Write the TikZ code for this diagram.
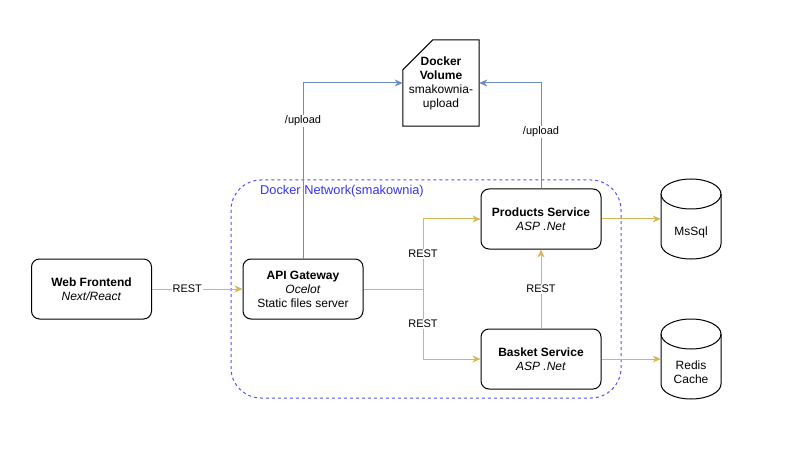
\documentclass[tikz,border=0pt]{standalone}
\usepackage{fontspec}
\setmainfont{Liberation Sans}
\usetikzlibrary{arrows.meta,calc}
\definecolor{gold}{HTML}{D6B656}
\definecolor{steel}{HTML}{6C8EBF}
\definecolor{netblue}{HTML}{5050FF}
\definecolor{nettext}{HTML}{3333FF}
\tikzset{
  svc/.style={draw=black, line width=1pt, rounded corners=8pt, minimum width=120pt, minimum height=60pt, align=center, fill=white, font=\fontsize{12}{14}\selectfont, inner sep=0pt},
  goldline/.style={draw=gold, line width=1pt, -{Stealth[length=8pt,width=7pt,inset=2.5pt]}},
  blueline/.style={draw=steel, line width=1pt, -{Stealth[length=8pt,width=7pt,inset=2.5pt]}},
  lbl/.style={fill=white, inner sep=1pt, font=\fontsize{11}{13}\selectfont},
  shapeline/.style={draw=black, line width=1pt, fill=white},
}
\begin{document}
\begin{tikzpicture}[x=1pt,y=-1pt]
\useasboundingbox (0,0) rectangle (787,465);
% network
\draw[netblue, line width=1pt, dash pattern=on 3pt off 3pt, rounded corners=30pt] (231,180) rectangle (621,398);
\node[anchor=west, text=nettext, font=\fontsize{12.8}{15}\selectfont, inner sep=0pt] (netlbl) at (260,191) {Docker Network(smakownia)};
% services
\node[svc] (web) at (91.5,289) {\textbf{Web Frontend}\\\textit{Next/React}};
\node[svc] (api) at (303,289) {\textbf{API Gateway}\\\textit{Ocelot}\\Static files server};
\node[svc] (prod) at (541,219) {\textbf{Products Service}\\\textit{ASP .Net}};
\node[svc] (bask) at (541,359) {\textbf{Basket Service}\\\textit{ASP .Net}};
% volume (card)
\node[minimum width=76pt, minimum height=86pt, inner sep=0pt] (vol) at (441,83) {};
\draw[shapeline] ($(vol.south west)$) -- ($(vol.north west)+(0,30)$) -- ($(vol.north west)+(30,0)$) -- (vol.north east) -- (vol.south east) -- cycle;
\node[align=center, font=\fontsize{12}{14}\selectfont, inner sep=0pt] (voltext) at (441,83) {\textbf{Docker}\\\textbf{Volume}\\smakownia-\\upload};
% cylinders
\node[minimum width=60pt, minimum height=80pt, inner sep=0pt] (sql) at (691,219) {};
\draw[shapeline] (661,194) -- (661,244) arc[start angle=180,end angle=0,x radius=30,y radius=15] -- (721,194) arc[start angle=0,end angle=-180,x radius=30,y radius=15];
\draw[line width=1pt] (661,194) arc[start angle=180,end angle=0,x radius=30,y radius=15];
\node[font=\fontsize{12}{14}\selectfont, inner sep=0pt] (sqltext) at ($(sql.center)+(0,13)$) {MsSql};
\node[minimum width=60pt, minimum height=80pt, inner sep=0pt] (redis) at (691,359) {};
\draw[shapeline] (661,334) -- (661,384) arc[start angle=180,end angle=0,x radius=30,y radius=15] -- (721,334) arc[start angle=0,end angle=-180,x radius=30,y radius=15];
\draw[line width=1pt] (661,334) arc[start angle=180,end angle=0,x radius=30,y radius=15];
\node[font=\fontsize{12}{14}\selectfont, inner sep=0pt, align=center] (redistext) at ($(redis.center)+(0,13)$) {Redis\\Cache};
% connectors
\draw[goldline] (web.east) -- node[lbl, pos=0.39] {REST} (api.west);
\coordinate (split) at (423,289);
\draw[draw=gold, line width=1pt] (api.east) -- (split);
\draw[goldline] (split) |- node[lbl, pos=0.25] {REST} (prod.west);
\draw[goldline] (split) |- node[lbl, pos=0.25] {REST} (bask.west);
\draw[goldline] (bask.north) -- node[lbl, pos=0.5] {REST} (prod.south);
\draw[goldline] (prod.east) -- (sql.west);
\draw[goldline] (bask.east) -- (redis.west);
\draw[blueline] (api.north) |- node[lbl, pos=0.392] {/upload} (vol.west);
\draw[blueline] (prod.north) |- node[lbl, pos=0.269] {/upload} (vol.east);
\end{tikzpicture}
\end{document}
